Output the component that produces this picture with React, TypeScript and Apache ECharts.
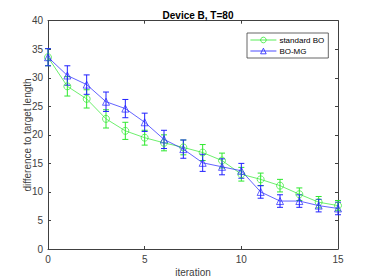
import React, { useEffect, useRef } from "react";
import * as echarts from "echarts";

const iterations = [0, 1, 2, 3, 4, 5, 6, 7, 8, 9, 10, 11, 12, 13, 14, 15];
const standardBO = [33.6, 28.5, 26.3, 22.8, 20.7, 19.5, 18.6, 17.8, 16.9, 15.5, 13.1, 12.2, 11.1, 9.6, 8.2, 7.6];
const standardBOErr = [1.5, 1.7, 1.6, 1.6, 1.5, 1.3, 1.4, 1.3, 1.4, 1.3, 1.2, 1.1, 1.1, 1.1, 1.0, 0.9];
const boMG = [33.6, 30.4, 28.8, 25.8, 24.6, 22.2, 19.2, 17.5, 15.1, 14.4, 13.7, 10.0, 8.4, 8.4, 7.6, 7.1];
const boMGErr = [1.5, 1.7, 1.7, 1.7, 1.6, 1.6, 1.6, 1.6, 1.5, 1.4, 1.3, 1.1, 1.1, 1.1, 1.1, 1.1];
const xTicks = [0, 5, 10, 15];
const yTicks = [0, 5, 10, 15, 20, 25, 30, 35, 40];

const GREEN = "#2ee82e";
const BLUE = "#2020ff";
const AXIS = "#404040";
const FONT = "Liberation Sans, Arial, sans-serif";

function errorBarSeries(name: string, ys: number[], errs: number[], color: string) {
  return {
    type: "custom",
    name,
    xAxisIndex: 0,
    yAxisIndex: 0,
    z: 3,
    silent: true,
    data: iterations.map((x, i) => [x, ys[i], errs[i]]),
    encode: { x: 0, y: 1 },
    renderItem: (params: any, api: any) => {
      const x = api.value(0);
      const y = api.value(1);
      const e = api.value(2);
      const top = api.coord([x, y + e]);
      const bot = api.coord([x, y - e]);
      const hw = 3;
      const style = { stroke: color, lineWidth: 1 };
      return {
        type: "group",
        children: [
          { type: "line", shape: { x1: top[0], y1: top[1], x2: bot[0], y2: bot[1] }, style },
          { type: "line", shape: { x1: top[0] - hw, y1: top[1], x2: top[0] + hw, y2: top[1] }, style },
          { type: "line", shape: { x1: bot[0] - hw, y1: bot[1], x2: bot[0] + hw, y2: bot[1] }, style },
        ],
      };
    },
  };
}

export default function App() {
  const ref = useRef<HTMLDivElement>(null);
  useEffect(() => {
    if (!ref.current) return;
    const chart = echarts.init(ref.current, null, { renderer: "svg" });
    const axisCommon = {
      type: "value",
      interval: 5,
      axisLine: { show: true, onZero: false, lineStyle: { color: AXIS, width: 1 } },
      axisTick: { show: true, inside: true, length: 3, lineStyle: { color: AXIS, width: 1 } },
      splitLine: { show: false },
    };
    chart.setOption({
      animation: false,
      backgroundColor: "#ffffff",
      title: {
        text: "Device B, T=80",
        left: 193,
        textAlign: "center",
        top: 5,
        textStyle: { fontFamily: FONT, fontSize: 10, fontWeight: "bold", color: "#000" },
      },
      grid: { left: 48, right: 36, top: 20.7, bottom: 31 },
      xAxis: [
        {
          ...axisCommon,
          min: 0,
          max: 15,
          position: "bottom",
          axisLabel: { show: true, margin: 5, color: AXIS, fontFamily: FONT, fontSize: 10,
            customValues: xTicks },
        },
        {
          ...axisCommon,
          min: 0,
          max: 15,
          position: "top",
          axisLabel: { show: false },
        },
      ],
      yAxis: [
        {
          ...axisCommon,
          min: 0,
          max: 40,
          position: "left",
          axisLabel: { show: true, margin: 5, color: AXIS, fontFamily: FONT, fontSize: 10,
            customValues: yTicks },
        },
        {
          ...axisCommon,
          min: 0,
          max: 40,
          position: "right",
          axisLabel: { show: false },
        },
      ],
      legend: {
        data: ["standard BO", "BO-MG"],
        orient: "vertical",
        left: 247,
        top: 33,
        padding: [3, 4, 3, 3],
        itemGap: 3,
        itemWidth: 26,
        itemHeight: 7,
        borderColor: AXIS,
        borderWidth: 0.8,
        borderRadius: 0,
        backgroundColor: "#fff",
        lineStyle: { width: 0.8 },
        itemStyle: { borderWidth: 0.8 },
        textStyle: { fontFamily: FONT, fontSize: 8, color: "#000", padding: [0, 0, 0, -2] },
      },
      graphic: [
        {
          type: "text",
          x: 193,
          y: 272,
          style: { text: "iteration", font: `10px ${FONT}`, fill: AXIS, align: "center", verticalAlign: "middle" },
        },
        {
          type: "text",
          x: 27,
          y: 135,
          rotation: Math.PI / 2,
          style: { text: "difference to target length", font: `10px ${FONT}`, fill: AXIS, align: "center", verticalAlign: "middle" },
        },
      ],
      series: [
        {
          type: "line",
          name: "standard BO",
          data: iterations.map((x, i) => [x, standardBO[i]]),
          symbol: "circle",
          symbolSize: 7,
          showAllSymbol: true,
          lineStyle: { color: GREEN, width: 0.7 },
          itemStyle: { color: "rgba(255,255,255,0)", borderColor: GREEN, borderWidth: 0.7 },
          z: 4,
        },
        {
          type: "line",
          name: "BO-MG",
          data: iterations.map((x, i) => [x, boMG[i]]),
          symbol: "triangle",
          symbolSize: 7,
          showAllSymbol: true,
          lineStyle: { color: BLUE, width: 0.7 },
          itemStyle: { color: "rgba(255,255,255,0)", borderColor: BLUE, borderWidth: 0.7 },
          z: 5,
        },
        errorBarSeries("err-standard", standardBO, standardBOErr, GREEN),
        errorBarSeries("err-mg", boMG, boMGErr, BLUE),
      ],
    });
    return () => chart.dispose();
  }, []);
  return <div ref={ref} style={{ width: 374, height: 280, position: "absolute", left: 0, top: 0 }} />;
}
